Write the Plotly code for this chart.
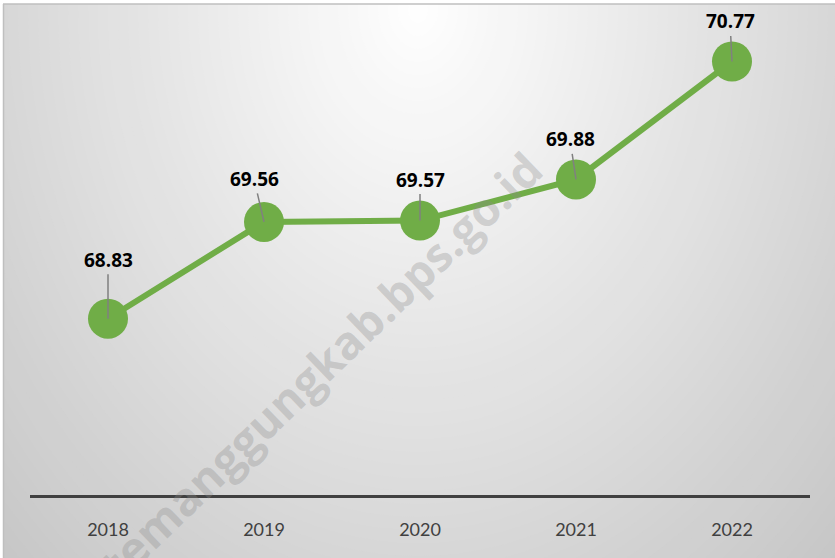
import plotly.graph_objects as go

years = ["2018", "2019", "2020", "2021", "2022"]
values = [68.83, 69.56, 69.57, 69.88, 70.77]

# label offset (px) from marker centre to label centre
label_dx = [0, -10, 0, -6, -2]
label_dy = [-59, -43, -41, -40, -40]

WIDTH, HEIGHT = 835, 558
MARGIN = dict(l=30, r=25, t=31, b=63)
PLOT_W = WIDTH - MARGIN["l"] - MARGIN["r"]
PLOT_H = HEIGHT - MARGIN["t"] - MARGIN["b"]

GREEN = "#70AD47"


def px_x(p):
    return (p - MARGIN["l"]) / PLOT_W


def px_y(p):
    return (HEIGHT - MARGIN["b"] - p) / PLOT_H


# radial grey background: light at top centre, darker towards the edges
shapes = [
    dict(type="rect", xref="paper", yref="paper", layer="below",
         x0=px_x(4), x1=px_x(WIDTH + 5), y0=px_y(HEIGHT + 5), y1=px_y(4),
         fillcolor="#c6c6c6", line=dict(width=0)),
]
for r in range(700, 0, -10):
    g = max(0, min(255, round(255 - 0.095 * r)))
    shapes.append(dict(
        type="circle", layer="below",
        xref="paper", yref="paper",
        xsizemode="pixel", ysizemode="pixel",
        xanchor=px_x(418), yanchor=px_y(10),
        x0=-r, x1=r, y0=-1.3 * r, y1=1.3 * r,
        fillcolor=f"rgb({g},{g},{g})", line=dict(width=0),
    ))
# white strips outside the chart frame + frame edges
shapes += [
    dict(type="rect", xref="paper", yref="paper", layer="below",
         x0=px_x(-5), x1=px_x(WIDTH + 5), y0=px_y(4), y1=px_y(-5),
         fillcolor="white", line=dict(width=0)),
    dict(type="rect", xref="paper", yref="paper", layer="below",
         x0=px_x(-5), x1=px_x(3), y0=px_y(HEIGHT + 5), y1=px_y(-5),
         fillcolor="white", line=dict(width=0)),
    dict(type="line", xref="paper", yref="paper", layer="below",
         x0=px_x(3), x1=px_x(WIDTH + 5), y0=px_y(4), y1=px_y(4),
         line=dict(color="#bfbfbf", width=1.5)),
    dict(type="line", xref="paper", yref="paper", layer="below",
         x0=px_x(3.5), x1=px_x(3.5), y0=px_y(4), y1=px_y(HEIGHT + 5),
         line=dict(color="#bfbfbf", width=1.5)),
]

# watermark
annotations = [dict(
    xref="paper", yref="paper", x=px_x(320), y=px_y(366),
    xanchor="center", yanchor="middle", showarrow=False,
    text="<b>temanggungkab.bps.go.id</b>", textangle=-44,
    font=dict(family="Open Sans", size=46, color="rgba(140,140,140,0.33)"),
)]

for i, (v, dx, dy) in enumerate(zip(values, label_dx, label_dy)):
    annotations.append(dict(
        x=i, y=v, xref="x", yref="y", text=f"<b>{v:.2f}</b>",
        showarrow=True, arrowhead=0, arrowwidth=1.5, arrowcolor="#808080",
        standoff=0, ax=dx, ay=dy,
        font=dict(family="Open Sans", size=19, color="black"),
    ))

fig = go.Figure(
    go.Scatter(
        x=years,
        y=values,
        mode="lines+markers",
        line=dict(color=GREEN, width=6),
        marker=dict(size=40, color=GREEN),
        hoverinfo="skip",
    )
)

fig.update_layout(
    width=WIDTH,
    height=HEIGHT,
    margin=MARGIN,
    paper_bgcolor="white",
    plot_bgcolor="rgba(0,0,0,0)",
    showlegend=False,
    shapes=shapes,
    annotations=annotations,
    xaxis=dict(
        type="category",
        range=[-0.5, 4.5],
        showline=True,
        linecolor="#404040",
        linewidth=3,
        showgrid=False,
        zeroline=False,
        ticks="outside",
        ticklen=16,
        tickcolor="rgba(0,0,0,0)",
        tickfont=dict(family="Lato", size=18, color="#404040"),
    ),
    yaxis=dict(range=[67.5, 71.0], visible=False),
)

# page body has a default 8px margin; drop it so the figure sits at 0,0
fig.write_html(
    "out.html",
    config={"displayModeBar": False},
    post_script="document.body.style.margin='0';",
)
